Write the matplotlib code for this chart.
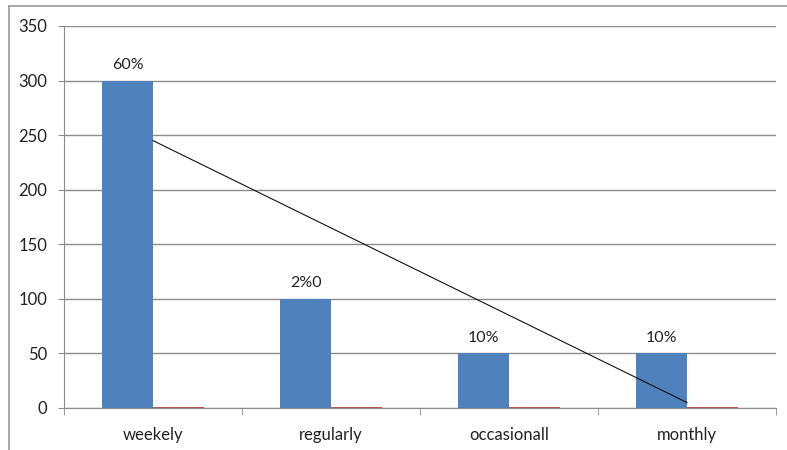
import numpy as np
import matplotlib.pyplot as plt
from matplotlib.lines import Line2D

plt.rcParams['font.family'] = ['Lato', 'DejaVu Sans']

categories = ['weekely', 'regularly', 'occasionall', 'monthly']
counts = [300, 100, 50, 50]
second = [1, 1, 1, 1]
bar_labels = ['60%', '2%0', '10%', '10%']

blue = '#4F81BD'
red = '#C0504D'
grid = '#8C8C8C'

fig = plt.figure(figsize=(7.87, 4.5), dpi=100)
ax = fig.add_axes([64 / 787, 1 - 408 / 450, 712 / 787, 382 / 450])

x = np.arange(len(categories))
w = 1 / 3.5
b1 = ax.bar(x - w / 2, counts, w, color=blue, zorder=2)
ax.bar(x + w / 2, second, w, color=red, zorder=2)

for rect, lab in zip(b1, bar_labels):
    ax.text(rect.get_x() + rect.get_width() / 2, rect.get_height() + 8, lab,
            ha='center', va='bottom', fontsize=11.5, color='#222222')

# linear trendline through the blue series
k, c = np.polyfit(x, counts, 1)
ax.plot([x[0], x[-1]], [k * x[0] + c, k * x[-1] + c], color='#111111', lw=0.8, zorder=3)

ax.set_xlim(-0.5, len(categories) - 0.5)
ax.set_ylim(0, 350)
ax.set_yticks(range(0, 351, 50))
ax.yaxis.grid(True, color=grid, lw=1)
ax.set_axisbelow(True)

ax.set_xticks(x)
ax.set_xticklabels(categories)
ax.set_xticks(np.arange(-0.5, len(categories)), minor=True)
ax.tick_params(axis='x', which='major', length=0, pad=14, labelsize=12, labelcolor='#222222')
ax.tick_params(axis='x', which='minor', length=5, color=grid)
ax.tick_params(axis='y', length=4, color=grid, pad=8, labelsize=12, labelcolor='#222222')

for s in ['top', 'right']:
    ax.spines[s].set_visible(False)
for s in ['left', 'bottom']:
    ax.spines[s].set_color(grid)

# outer chart frame
fig.add_artist(Line2D([9 / 787, 1], [1 - 6 / 450, 1 - 6 / 450], color='#999999', lw=1.2,
                      transform=fig.transFigure))
fig.add_artist(Line2D([9 / 787, 9 / 787], [0, 1 - 6 / 450], color='#999999', lw=1.2,
                      transform=fig.transFigure))

fig.savefig('out.png', dpi=100)
